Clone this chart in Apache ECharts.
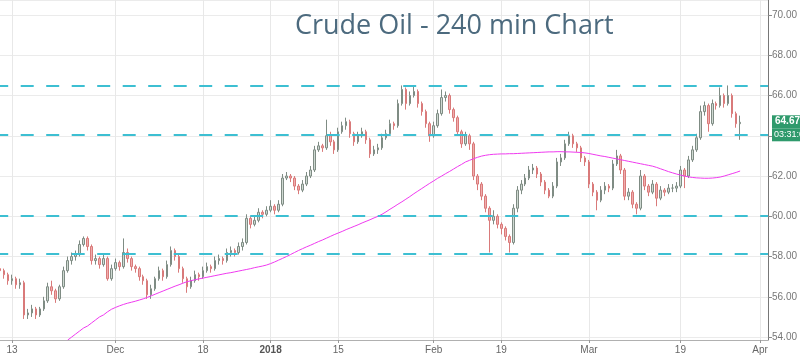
<!DOCTYPE html>
<html><head><meta charset="utf-8">
<script src="https://cdn.jsdelivr.net/npm/echarts@6/dist/echarts.min.js"></script>
<style>html,body{margin:0;padding:0;background:#fff}#c{width:800px;height:356px}</style>
</head><body><div id="c"></div>
<script>
const opens=[57.4,57.3,57.1,56.8,56.9,56.6,56.7,55.1,55.2,55.4,
55.1,55.4,55.8,56.5,56.3,55.9,56.5,57.3,57.8,58.0,
58.1,58.6,58.9,58.5,57.8,57.9,57.6,57.9,56.9,57.4,
57.7,57.5,58.2,57.9,57.5,57.4,57.0,56.8,56.1,56.4,
56.9,57.3,57.0,57.6,58.3,58.0,57.4,56.9,56.5,56.8,
57.1,57.0,57.3,57.5,57.4,57.8,57.9,57.8,58.2,58.3,
58.2,58.5,58.7,59.9,59.6,59.8,60.2,60.1,60.3,60.5,
60.3,60.6,61.9,62.0,61.9,61.5,61.3,61.6,62.0,62.3,
63.3,63.5,63.4,64.0,63.7,63.3,64.2,64.5,64.7,64.1,
63.7,64.0,64.2,63.8,63.1,63.3,63.4,63.9,64.1,64.6,
64.5,65.6,66.3,65.6,66.0,66.2,65.6,65.2,64.6,64.0,
64.5,65.1,65.9,66.0,65.3,64.9,64.2,63.6,64.0,63.6,
62.0,61.6,61.0,60.4,59.8,60.0,59.6,59.4,59.0,58.7,
60.4,61.3,61.6,61.9,62.3,62.4,62.1,61.7,61.3,61.0,
61.5,62.7,62.9,63.6,64.0,63.6,63.4,62.9,62.7,61.6,
61.2,60.8,61.3,61.5,61.4,62.6,63.0,62.3,61.0,61.2,
60.6,60.4,62.0,61.5,61.2,61.6,60.9,61.3,61.2,61.4,
61.4,61.5,62.3,62.0,62.8,63.3,63.9,65.2,65.5,64.6,
65.6,65.5,66.0,65.6,66.0,65.1,64.6];
const closes=[57.3,57.1,56.8,56.9,56.6,56.7,55.1,55.2,55.4,55.1,
55.4,55.8,56.5,56.3,55.9,56.5,57.3,57.8,58.0,58.1,
58.6,58.9,58.5,57.8,57.9,57.6,57.9,56.9,57.4,57.7,
57.5,58.2,57.9,57.5,57.4,57.0,56.8,56.1,56.4,56.9,
57.3,57.0,57.6,58.3,58.0,57.4,56.9,56.5,56.8,57.1,
57.0,57.3,57.5,57.4,57.8,57.9,57.8,58.2,58.3,58.2,
58.5,58.7,59.9,59.6,59.8,60.2,60.1,60.3,60.5,60.3,
60.6,61.9,62.0,61.9,61.5,61.3,61.6,62.0,62.3,63.3,
63.5,63.4,64.0,63.7,63.3,64.2,64.5,64.7,64.1,63.7,
64.0,64.2,63.8,63.1,63.3,63.4,63.9,64.1,64.6,64.5,
65.6,66.3,65.6,66.0,66.2,65.6,65.2,64.6,64.0,64.5,
65.1,65.9,66.0,65.3,64.9,64.2,63.6,64.0,63.6,62.0,
61.6,61.0,60.4,59.8,60.0,59.6,59.4,59.0,58.7,60.4,
61.3,61.6,61.9,62.3,62.4,62.1,61.7,61.3,61.0,61.5,
62.7,62.9,63.6,64.0,63.6,63.4,62.9,62.7,61.6,61.2,
60.8,61.3,61.5,61.4,62.6,63.0,62.3,61.0,61.2,60.6,
60.4,62.0,61.5,61.2,61.6,60.9,61.3,61.2,61.4,61.4,
61.5,62.3,62.0,62.8,63.3,63.9,65.2,65.5,64.6,65.6,
65.5,66.0,65.6,66.0,65.1,64.6,64.67];
const lows=[57.1,56.9,56.6,56.6,56.4,56.4,54.9,54.9,55.0,54.9,
55.0,55.3,55.7,56.1,55.7,55.8,56.4,57.2,57.6,57.8,
58.0,58.5,58.3,57.6,57.6,57.4,57.5,56.8,56.8,57.3,
57.3,57.4,57.7,57.3,57.2,56.8,56.6,55.9,55.9,56.3,
56.8,56.8,56.9,57.5,57.8,57.2,56.7,56.2,56.4,56.7,
56.8,56.9,57.2,57.2,57.3,57.6,57.6,57.7,58.0,58.0,
58.1,58.3,58.6,59.4,59.5,59.7,59.9,60.0,60.2,60.1,
60.2,60.5,61.8,61.7,61.3,61.1,61.2,61.5,61.9,62.2,
63.2,63.2,63.3,63.5,63.1,63.2,64.1,64.3,63.9,63.5,
63.6,63.9,63.6,62.9,63.0,63.1,63.3,63.8,64.0,64.3,
64.4,65.5,65.3,65.5,65.9,65.4,65.0,64.4,63.7,63.9,
64.4,65.0,65.7,65.1,64.7,64.0,63.4,63.5,63.3,61.8,
61.3,60.8,60.2,58.2,59.6,59.4,59.1,58.8,58.2,58.6,
60.2,61.1,61.5,61.8,62.1,61.9,61.5,61.1,60.9,60.9,
61.4,62.5,62.8,63.5,63.4,63.2,62.7,62.5,61.4,61.0,
60.3,60.7,61.1,61.2,61.3,62.5,62.1,60.8,60.8,60.4,
60.1,60.3,61.3,61.0,61.1,60.5,60.8,61.0,61.1,61.2,
61.2,61.4,61.4,61.9,62.7,63.2,63.8,65.0,64.2,64.5,
65.3,65.4,65.4,65.5,64.9,64.4,63.8];
const highs=[57.6,57.4,57.2,57.1,57.0,56.9,56.8,55.4,55.6,55.5,
55.5,56.0,56.7,56.8,56.4,56.6,57.5,58.0,58.2,58.3,
58.8,59.0,59.0,58.6,58.1,58.0,58.1,58.0,57.6,57.9,
57.8,58.9,58.4,58.0,57.6,57.5,57.1,56.9,56.6,57.0,
57.5,57.4,57.8,58.5,58.4,58.1,57.5,57.0,57.0,57.3,
57.2,57.5,57.7,57.6,58.0,58.1,58.0,58.4,58.5,58.4,
58.7,58.9,60.1,60.0,60.0,60.4,60.3,60.5,60.8,60.6,
60.8,62.1,62.2,62.1,62.0,61.6,61.8,62.2,62.5,63.5,
63.7,63.6,64.8,64.2,63.8,64.4,64.7,64.9,64.8,64.2,
64.2,64.4,64.3,63.9,63.5,63.6,64.1,64.3,64.8,64.7,
65.8,66.5,66.4,66.2,66.5,66.3,65.7,65.3,64.7,64.7,
65.3,66.3,66.2,66.1,65.4,65.0,64.3,64.2,64.1,63.7,
62.1,61.7,61.1,60.5,60.3,60.1,59.7,59.5,59.1,60.6,
61.5,61.8,62.1,62.5,62.6,62.5,62.2,61.8,61.4,61.7,
62.9,63.1,63.8,64.2,64.1,63.7,63.5,63.0,62.8,61.7,
61.3,61.5,61.7,61.6,62.8,63.3,63.1,62.4,61.4,61.3,
60.7,62.3,62.1,61.6,61.8,61.7,61.5,61.4,61.6,61.6,
61.7,62.5,62.4,63.0,63.5,64.1,65.5,65.7,65.6,65.8,
65.7,66.4,66.1,66.5,66.1,65.2,65.0];
const maValues=[null,null,null,null,null,null,null,null,null,null,
null,null,null,null,null,null,null,53.85,54.0,54.15,
54.3,54.45,54.55,54.7,54.85,55.0,55.1,55.25,55.38,55.47,
55.55,55.62,55.68,55.73,55.78,55.84,55.9,55.97,56.05,56.13,
56.21,56.29,56.37,56.45,56.53,56.6,56.68,56.75,56.8,56.85,
56.89,56.93,56.97,57.01,57.05,57.09,57.13,57.17,57.2,57.24,
57.28,57.32,57.36,57.4,57.45,57.49,57.53,57.58,57.65,57.73,
57.82,57.91,58.0,58.1,58.2,58.3,58.39,58.48,58.56,58.65,
58.74,58.82,58.91,59.0,59.09,59.17,59.25,59.34,59.42,59.5,
59.58,59.67,59.75,59.83,59.92,60.0,60.1,60.22,60.35,60.47,
60.6,60.72,60.85,60.98,61.12,61.25,61.38,61.51,61.64,61.76,
61.89,62.0,62.12,62.23,62.35,62.47,62.58,62.7,62.78,62.86,
62.93,62.99,63.03,63.06,63.08,63.09,63.1,63.1,63.11,63.11,
63.12,63.13,63.14,63.15,63.16,63.17,63.18,63.19,63.2,63.2,
63.21,63.21,63.2,63.2,63.19,63.18,63.17,63.15,63.12,63.08,
63.04,63.0,62.97,62.93,62.89,62.85,62.81,62.77,62.73,62.69,
62.65,62.61,62.57,62.53,62.49,62.43,62.36,62.29,62.22,62.16,
62.1,62.05,62.0,61.96,61.93,61.91,61.9,61.89,61.89,61.9,
61.92,61.95,62.0,62.06,62.12,62.18,62.25];
const tickIndex=[3,29,51,68,85,109,126,148,171,191];
const tickText=['13','Dec','18','2018','15','Feb','19','Mar','19','Apr'];
const slotCount=194;
const levels=[66.5,64.05,60.05,58.15];
const lastPrice=64.67;
const countdown='03:31:0';
const titleText='Crude Oil - 240 min Chart';

const categories=[];
for(let i=0;i<slotCount;i++) categories.push('s'+i);
const labelMap={};
tickIndex.forEach((k,j)=>{labelMap[k]=tickText[j];});
const candles=opens.map((o,i)=>[o,closes[i],lows[i],highs[i]]);
const isTick=(idx)=>labelMap[idx]!==undefined;

const chart=echarts.init(document.getElementById('c'),null,{renderer:'canvas'});
chart.setOption({
  animation:false,
  backgroundColor:'#ffffff',
  title:{text:titleText,left:290,top:8,textStyle:{fontFamily:'Open Sans',fontSize:27,fontWeight:'normal',color:'#4c6a7e'}},
  grid:{left:0,right:29,top:0,bottom:16},
  xAxis:{type:'category',data:categories,boundaryGap:false,
    axisLine:{show:true,lineStyle:{color:'#b0b0b0'}},
    axisTick:{show:true,interval:isTick,length:3,lineStyle:{color:'#999'}},
    axisLabel:{interval:isTick,margin:5,fontSize:10,color:'#666',fontFamily:'Liberation Sans',
      formatter:(v,idx)=>{const t=labelMap[idx]; if(t===undefined) return ''; return t==='2018'?'{b|2018}':t;},
      rich:{b:{fontWeight:'bold',fontSize:10,color:'#555',fontFamily:'Liberation Sans'}}},
    splitLine:{show:true,interval:isTick,lineStyle:{color:'#e8e8e8',width:1}}
  },
  yAxis:{type:'value',position:'right',min:53.855,max:70.745,splitNumber:8,minInterval:2,maxInterval:2,scale:true,
    axisLine:{show:true,lineStyle:{color:'#777'}},
    axisTick:{show:true,length:4,inside:false,lineStyle:{color:'#888'}},
    axisLabel:{showMinLabel:false,showMaxLabel:false,margin:4,fontSize:10,color:'#777',fontFamily:'Liberation Sans',
      formatter:(v)=>v.toFixed(2)},
    splitLine:{show:true,lineStyle:{color:'#ebebeb',width:1}}
  },
  series:[
    {type:'candlestick',data:candles,barWidth:2,
      itemStyle:{color:'#cfd9d2',color0:'#f0adad',borderColor:'#7f8c84',borderColor0:'#d97a7a',borderWidth:1},
      markLine:{silent:true,symbol:['none','none'],label:{show:false},
        lineStyle:{color:'#3dbfd2',width:2,type:[13,12.5],dashOffset:4.8},
        data:levels.map(v=>({yAxis:v}))}
    },
    {type:'line',data:maValues,showSymbol:false,symbol:'none',clip:true,
      lineStyle:{color:'#ef3aef',width:1},z:3}
  ]
});
const py=chart.convertToPixel({yAxisIndex:0},lastPrice);
chart.setOption({graphic:[
  {type:'rect',shape:{x:772,y:py-7,width:28,height:13},style:{fill:'#2f9a6c'},z:100},
  {type:'text',x:775,y:py-6,style:{text:lastPrice.toFixed(2),fill:'#fff',font:'bold 10px Liberation Sans'},z:101},
  {type:'rect',shape:{x:772,y:py+6,width:28,height:13},style:{fill:'#2f9a6c'},z:100},
  {type:'text',x:774,y:py+8,style:{text:countdown,fill:'#fff',font:'9px Liberation Sans'},z:101}
]});
</script></body></html>
